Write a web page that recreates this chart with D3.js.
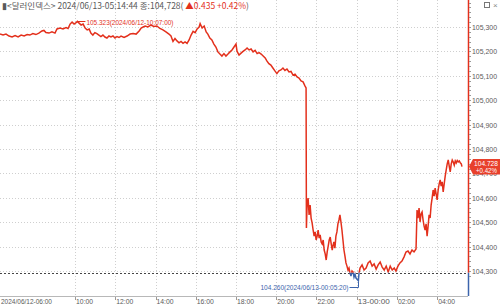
<!DOCTYPE html>
<html>
<head>
<meta charset="utf-8">
<script src="https://cdn.jsdelivr.net/npm/d3@7"></script>
<style>
  html, body { margin: 0; padding: 0; background: #fff; }
  svg { display: block; font-family: "Liberation Sans", Arial, sans-serif; }
</style>
</head>
<body>
<div id="chart"></div>
<script>
// 달러인덱스 intraday, 2024/06/12 ~ 2024/06/13
var times = [
  "12 06:16","12 06:25","12 06:34","12 06:43","12 06:52","12 07:01","12 07:10","12 07:19","12 07:28","12 07:37",
  "12 07:45","12 07:54","12 08:03","12 08:12","12 08:21","12 08:27","12 08:33","12 08:42","12 08:51","12 09:00",
  "12 09:06","12 09:15","12 09:24","12 09:33","12 09:39","12 09:45","12 09:51","12 09:57","12 10:03","12 10:07",
  "12 10:12","12 10:18","12 10:24","12 10:30","12 10:36","12 10:42","12 10:47","12 10:53","12 10:59","12 11:05",
  "12 11:11","12 11:17","12 11:23","12 11:29","12 11:35","12 11:41","12 11:47","12 11:53","12 11:59","12 12:05",
  "12 12:11","12 12:17","12 12:26","12 12:35","12 12:44","12 12:53","12 13:02","12 13:11","12 13:17","12 13:23",
  "12 13:29","12 13:37","12 13:46","12 13:55","12 14:04","12 14:13","12 14:22","12 14:31","12 14:40","12 14:46",
  "12 14:52","12 14:58","12 15:04","12 15:10","12 15:16","12 15:22","12 15:28","12 15:34","12 15:40","12 15:46",
  "12 15:52","12 15:58","12 16:04","12 16:10","12 16:13","12 16:19","12 16:25","12 16:31","12 16:36","12 16:42",
  "12 16:48","12 16:54","12 17:00","12 17:06","12 17:12","12 17:18","12 17:24","12 17:30","12 17:36","12 17:42",
  "12 17:48","12 17:54","12 18:00","12 18:03","12 18:09","12 18:15","12 18:21","12 18:27","12 18:33","12 18:39",
  "12 18:45","12 18:51","12 18:57","12 19:03","12 19:09","12 19:15","12 19:21","12 19:27","12 19:32","12 19:38",
  "12 19:44","12 19:50","12 19:56","12 20:02","12 20:08","12 20:14","12 20:20","12 20:26","12 20:32","12 20:38",
  "12 20:44","12 20:50","12 20:56","12 21:02","12 21:08","12 21:14","12 21:20","12 21:26","12 21:29","12 21:30",
  "12 21:32","12 21:35","12 21:38","12 21:41","12 21:44","12 21:47","12 21:50","12 21:53","12 21:56","12 21:59",
  "12 22:02","12 22:05","12 22:08","12 22:11","12 22:14","12 22:17","12 22:20","12 22:23","12 22:26","12 22:29",
  "12 22:32","12 22:35","12 22:38","12 22:41","12 22:44","12 22:47","12 22:49","12 22:52","12 22:55","12 22:58",
  "12 23:01","12 23:04","12 23:07","12 23:10","12 23:13","12 23:16","12 23:19","12 23:22","12 23:25","12 23:28",
  "12 23:31","12 23:34","12 23:37","12 23:40","12 23:43","12 23:46","12 23:49","12 23:52","12 23:55","12 23:58",
  "13 00:05","13 00:07","13 00:10","13 00:16","13 00:22","13 00:28","13 00:34","13 00:40","13 00:46","13 00:52",
  "13 00:58","13 01:04","13 01:10","13 01:16","13 01:22","13 01:28","13 01:34","13 01:40","13 01:46","13 01:52",
  "13 01:57","13 02:03","13 02:09","13 02:15","13 02:21","13 02:27","13 02:33","13 02:39","13 02:45","13 02:51",
  "13 02:57","13 03:00","13 03:03","13 03:06","13 03:09","13 03:12","13 03:15","13 03:18","13 03:21","13 03:24",
  "13 03:27","13 03:30","13 03:33","13 03:36","13 03:39","13 03:42","13 03:45","13 03:48","13 03:51","13 03:54",
  "13 03:57","13 04:00","13 04:03","13 04:06","13 04:09","13 04:12","13 04:15","13 04:18","13 04:21","13 04:24",
  "13 04:27","13 04:30","13 04:33","13 04:36","13 04:39","13 04:42","13 04:45","13 04:48","13 04:51","13 04:54",
  "13 04:57","13 05:00","13 05:03","13 05:06","13 05:09","13 05:12","13 05:14"
];
var prices = [
  105.271,105.267,105.271,105.263,105.259,105.265,105.259,105.267,105.263,105.269,
  105.267,105.273,105.269,105.275,105.284,105.286,105.277,105.275,105.280,105.275,
  105.292,105.296,105.292,105.298,105.294,105.312,105.320,105.312,105.318,105.323,
  105.316,105.308,105.312,105.296,105.288,105.292,105.275,105.267,105.277,105.273,
  105.267,105.261,105.267,105.259,105.255,105.263,105.259,105.263,105.255,105.261,
  105.257,105.263,105.257,105.263,105.271,105.273,105.271,105.284,105.296,105.300,
  105.304,105.300,105.308,105.302,105.304,105.294,105.288,105.280,105.271,105.263,
  105.241,105.253,105.243,105.235,105.241,105.233,105.239,105.233,105.247,105.267,
  105.282,105.277,105.292,105.300,105.314,105.296,105.304,105.280,105.271,105.255,
  105.247,105.230,105.218,105.198,105.189,105.181,105.191,105.181,105.189,105.198,
  105.206,105.218,105.230,105.201,105.185,105.193,105.200,105.206,105.214,105.206,
  105.210,105.198,105.204,105.191,105.195,105.189,105.181,105.173,105.161,105.150,
  105.144,105.132,105.120,105.109,105.120,105.124,105.132,105.122,105.128,105.116,
  105.118,105.103,105.107,105.095,105.091,105.079,105.075,105.058,105.050,104.476,
  104.570,104.599,104.530,104.570,104.517,104.497,104.468,104.443,104.460,104.427,
  104.443,104.468,104.435,104.448,104.419,104.411,104.427,104.386,104.370,104.345,
  104.378,104.402,104.427,104.439,104.411,104.386,104.402,104.419,104.394,104.443,
  104.460,104.493,104.509,104.530,104.501,104.468,104.427,104.386,104.361,104.333,
  104.320,104.304,104.312,104.292,104.279,104.300,104.296,104.275,104.287,104.271,
  104.260,104.292,104.312,104.325,104.304,104.312,104.333,104.341,104.320,104.329,
  104.308,104.325,104.337,104.316,104.304,104.320,104.296,104.320,104.304,104.312,
  104.300,104.320,104.333,104.341,104.357,104.378,104.382,104.370,104.386,104.378,
  104.390,104.550,104.517,104.558,104.501,104.534,104.542,104.509,104.484,104.468,
  104.493,104.443,104.484,104.530,104.517,104.570,104.599,104.632,104.607,104.640,
  104.615,104.591,104.632,104.657,104.673,104.648,104.665,104.624,104.657,104.689,
  104.714,104.739,104.755,104.730,104.706,104.739,104.755,104.747,104.734,104.751,
  104.743,104.753,104.747,104.751,104.743,104.739,104.728
];
var yTicks = [104.3, 104.4, 104.5, 104.6, 104.7, 104.8, 104.9, 105.0, 105.1, 105.2, 105.3];
var prevClose = 104.293;
var lastPrice = 104.728;
var change = 0.435;
var changePct = 0.42;
var maxLabel = "105.323(2024/06/12-10:07:00)";
var minLabel = "104.260(2024/06/13-00:05:20)";
var startLabel = "2024/06/12-06:00";
var titleMain = "▮<달러인덱스> 2024/06/13-05:14:44 종:104,728(";

var W = 500, H = 306;
var plotRight = 468, plotTop = 0, plotBottom = 296;
var RED = "#e3301c", BLUE = "#3c64ac", GRID = "#cfcfcf", TXT = "#5a5a5a";

var parse = d3.timeParse("%Y-%m-%d %H:%M");
var data = times.map(function(t, i) {
    return { date: parse("2024-06-" + t), v: prices[i] };
});

var x = d3.scaleTime()
    .domain([parse("2024-06-12 06:16"), parse("2024-06-13 05:32")])
    .range([0, plotRight]);
var y = d3.scaleLinear().domain([104.3, 105.3]).range([271, 27]);

var svg = d3.select("#chart").append("svg")
    .attr("width", W).attr("height", H);

// grid
var hourTicks = x.ticks(d3.timeHour.every(2)).filter(function(d) {
    return x(d) > 50;
});
svg.append("g").selectAll("line").data(hourTicks).enter().append("line")
    .attr("x1", function(d) { return Math.round(x(d)) + 0.5; })
    .attr("x2", function(d) { return Math.round(x(d)) + 0.5; })
    .attr("y1", plotTop).attr("y2", plotBottom)
    .attr("stroke", GRID).attr("stroke-dasharray", "1,2");
svg.append("g").selectAll("line").data(yTicks).enter().append("line")
    .attr("x1", 0).attr("x2", plotRight)
    .attr("y1", function(d) { return Math.round(y(d)) + 0.5; })
    .attr("y2", function(d) { return Math.round(y(d)) + 0.5; })
    .attr("stroke", GRID).attr("stroke-dasharray", "1,2");

// previous close line
var yPrev = Math.round(y(prevClose)) + 0.5;
svg.append("line")
    .attr("x1", 0).attr("x2", plotRight)
    .attr("y1", yPrev).attr("y2", yPrev)
    .attr("stroke", "#444").attr("stroke-dasharray", "2,2");

// price line, red above prev close and blue below
var defs = svg.append("defs");
defs.append("clipPath").attr("id", "above").append("rect")
    .attr("x", 0).attr("y", 0).attr("width", plotRight).attr("height", y(prevClose));
defs.append("clipPath").attr("id", "below").append("rect")
    .attr("x", 0).attr("y", y(prevClose)).attr("width", plotRight).attr("height", plotBottom - y(prevClose));

var line = d3.line()
    .x(function(d) { return x(d.date); })
    .y(function(d) { return y(d.v); });

svg.append("path").datum(data)
    .attr("d", line).attr("fill", "none")
    .attr("stroke", RED).attr("stroke-width", 1.5)
    .attr("clip-path", "url(#above)");
svg.append("path").datum(data)
    .attr("d", line).attr("fill", "none")
    .attr("stroke", BLUE).attr("stroke-width", 1.5)
    .attr("clip-path", "url(#below)");

// right axis
svg.append("line")
    .attr("x1", plotRight + 0.5).attr("x2", plotRight + 0.5)
    .attr("y1", 0).attr("y2", y(prevClose))
    .attr("stroke", RED).attr("stroke-width", 1.5);
svg.append("line")
    .attr("x1", plotRight + 0.5).attr("x2", plotRight + 0.5)
    .attr("y1", y(prevClose)).attr("y2", plotBottom)
    .attr("stroke", BLUE).attr("stroke-width", 1.5);

var minor = d3.range(104.28, 105.42, 0.02);
svg.append("g").selectAll("line").data(minor).enter().append("line")
    .attr("x1", plotRight + 1).attr("x2", plotRight + 3)
    .attr("y1", function(d) { return Math.round(y(d)) + 0.5; })
    .attr("y2", function(d) { return Math.round(y(d)) + 0.5; })
    .attr("stroke", "#999");

var fmt = d3.format(",.3f");
svg.append("g").selectAll("text").data(yTicks).enter().append("text")
    .attr("x", plotRight + 4).attr("y", function(d) { return y(d) + 3; })
    .attr("font-size", 8).attr("fill", TXT)
    .attr("textLength", 25).attr("lengthAdjust", "spacingAndGlyphs")
    .text(function(d) { return fmt(d).replace(".", ","); });

// bottom axis
svg.append("line")
    .attr("x1", 0).attr("x2", plotRight)
    .attr("y1", plotBottom + 0.5).attr("y2", plotBottom + 0.5)
    .attr("stroke", "#b8b8b8");
var xlab = svg.append("g");
xlab.selectAll("line").data(hourTicks).enter().append("line")
    .attr("x1", function(d) { return Math.round(x(d)) + 0.5; })
    .attr("x2", function(d) { return Math.round(x(d)) + 0.5; })
    .attr("y1", plotBottom + 1).attr("y2", plotBottom + 4)
    .attr("stroke", "#999");
xlab.selectAll("text").data(hourTicks).enter().append("text")
    .attr("x", function(d) { return x(d) + 1; })
    .attr("y", 304)
    .attr("font-size", 8).attr("fill", TXT)
    .attr("textLength", function(d) { return d.getHours() === 0 ? 32 : 17; })
    .attr("lengthAdjust", "spacingAndGlyphs")
    .text(function(d) {
        return d.getHours() === 0 ? d3.timeFormat("%d-%H:%M")(d) : d3.timeFormat("%H:%M")(d);
    });
xlab.append("text")
    .attr("x", 1).attr("y", 304)
    .attr("font-size", 8).attr("fill", TXT)
    .attr("textLength", 51).attr("lengthAdjust", "spacingAndGlyphs")
    .text(startLabel);

// high / low markers
var hi = data[d3.maxIndex(data, function(d) { return d.v; })];
var lo = data[d3.minIndex(data, function(d) { return d.v; })];
var hx = x(hi.date), hy = Math.round(y(hi.v)) + 0.5;
svg.append("line")
    .attr("x1", hx).attr("x2", hx + 8).attr("y1", hy).attr("y2", hy)
    .attr("stroke", RED);
svg.append("text")
    .attr("x", hx + 9).attr("y", hy + 3)
    .attr("font-size", 8).attr("fill", RED)
    .attr("textLength", 87).attr("lengthAdjust", "spacingAndGlyphs")
    .text(maxLabel);

var lx = Math.round(x(lo.date)) + 0.5, ly = y(lo.v);
svg.append("path")
    .attr("d", "M" + (lx - 9) + "," + 287.5 + "H" + lx + "V" + (ly + 1))
    .attr("fill", "none").attr("stroke", BLUE);
svg.append("text")
    .attr("x", lx - 10).attr("y", 290)
    .attr("text-anchor", "end")
    .attr("font-size", 8).attr("fill", BLUE)
    .attr("textLength", 88).attr("lengthAdjust", "spacingAndGlyphs")
    .text(minLabel);

// last price tag
var ty = y(lastPrice);
svg.append("path")
    .attr("d", "M" + (plotRight + 1) + "," + ty + "L" + (plotRight + 5) + "," + (ty - 7.5) +
          "H" + W + "V" + (ty + 8) + "H" + (plotRight + 5) + "Z")
    .attr("fill", "#e8402c");
svg.append("text")
    .attr("x", plotRight + 6).attr("y", ty - 1)
    .attr("font-size", 7).attr("fill", "#fff")
    .attr("textLength", 24).attr("lengthAdjust", "spacingAndGlyphs")
    .text(d3.format(".3f")(lastPrice));
svg.append("text")
    .attr("x", plotRight + 8).attr("y", ty + 6.5)
    .attr("font-size", 7).attr("fill", "#fff")
    .attr("textLength", 21).attr("lengthAdjust", "spacingAndGlyphs")
    .text("+" + changePct.toFixed(2) + "%");

// title
var title = svg.append("text")
    .attr("x", 2).attr("y", 9)
    .attr("font-size", 8.5).attr("fill", TXT)
    .attr("font-family", "'Noto Sans CJK KR', 'Liberation Sans', sans-serif");
title.append("tspan").text(titleMain);
title.append("tspan").attr("fill", RED).text(" ▲" + change.toFixed(3) + "  +" + changePct.toFixed(2) + "%");
title.append("tspan").text(")");

// window icons
svg.append("rect").attr("x", 484.5).attr("y", 2.5).attr("width", 5).attr("height", 5)
    .attr("fill", "none").attr("stroke", "#777");
svg.append("text").attr("x", 493).attr("y", 8).attr("font-size", 8).attr("fill", "#888").text("×");
</script>
</body>
</html>
